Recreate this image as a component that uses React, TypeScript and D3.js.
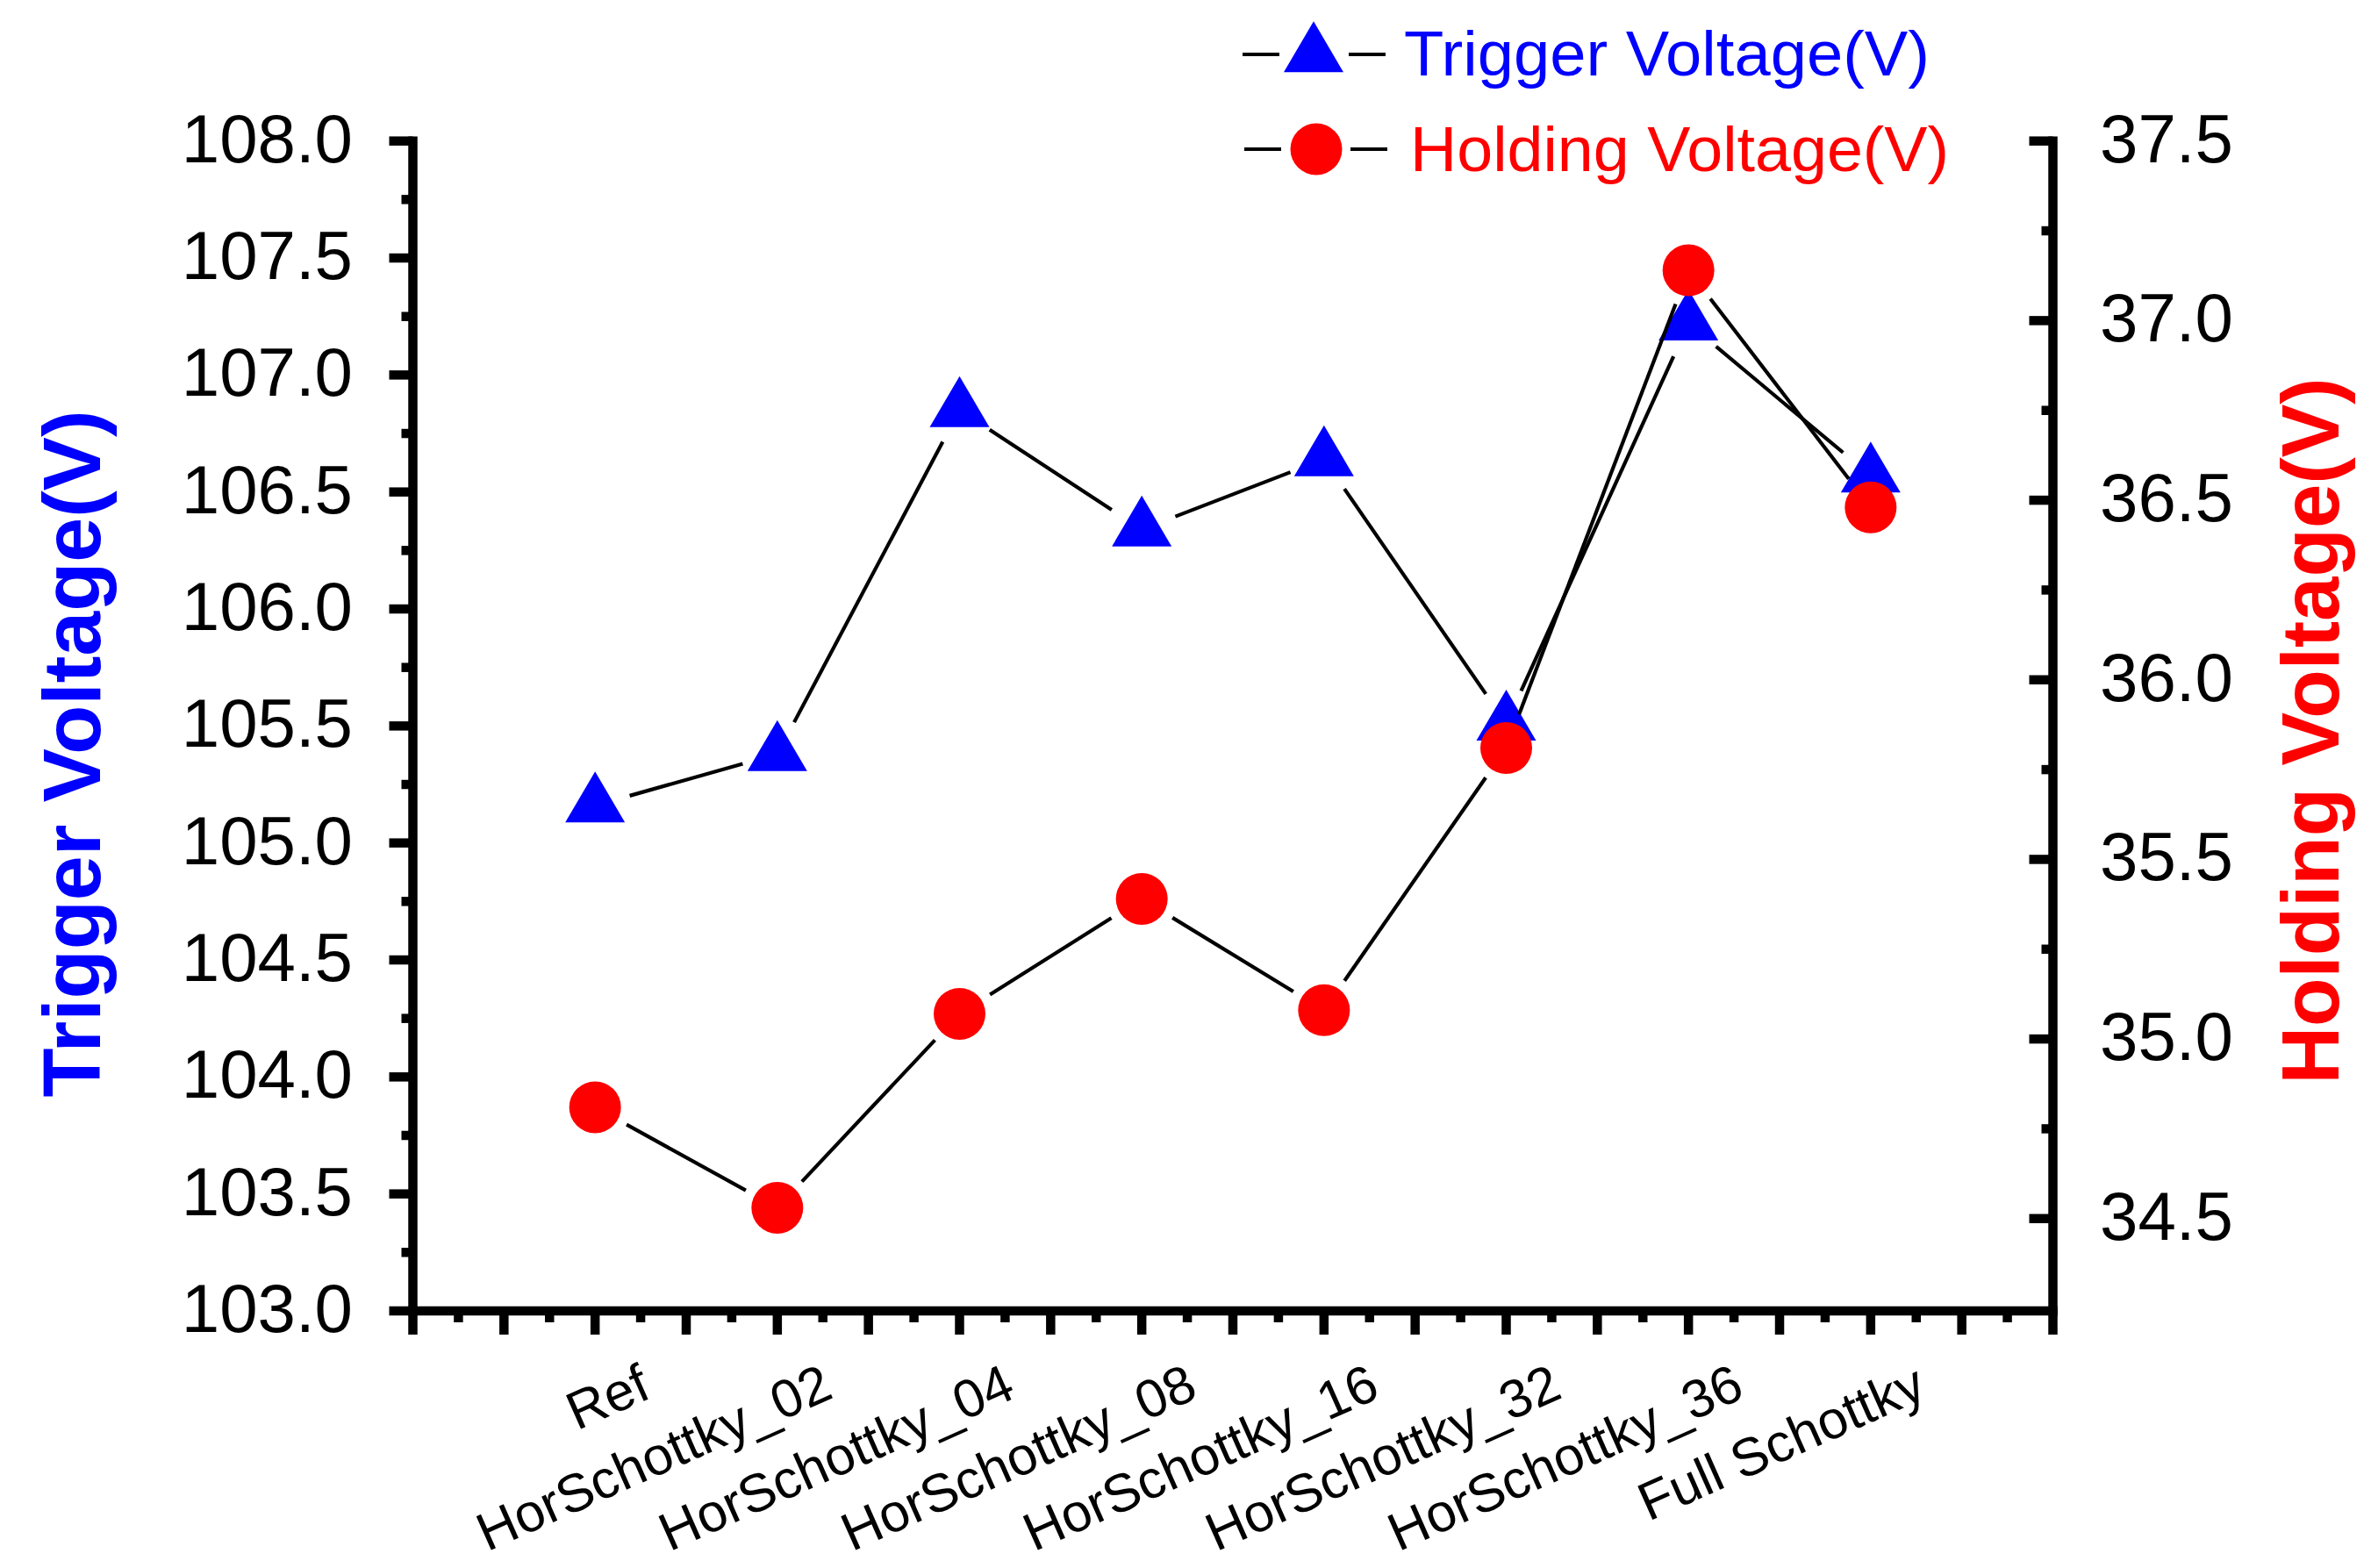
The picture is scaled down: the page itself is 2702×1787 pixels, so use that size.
import React from "react";
import * as d3 from "d3";

const categories = [
  "Ref",
  "HorSchottky_02",
  "HorSchottky_04",
  "HorSchottky_08",
  "HorSchottky_16",
  "HorSchottky_32",
  "HorSchottky_36",
  "Full Schottky",
];
const triggerVoltage = [105.16, 105.38, 106.85, 106.34, 106.64, 105.51, 107.22, 106.57];
const holdingVoltage = [34.81, 34.53, 35.07, 35.39, 35.08, 35.81, 37.14, 36.48];

const leftTicks = [103.0, 103.5, 104.0, 104.5, 105.0, 105.5, 106.0, 106.5, 107.0, 107.5, 108.0];
const rightTicks = [34.5, 35.0, 35.5, 36.0, 36.5, 37.0, 37.5];

const W = 2702;
const H = 1787;
const FONT = "'Liberation Sans', Arial, Helvetica, sans-serif";
const BLUE = "#0000ff";
const RED = "#ff0000";

const plot = { left: 470.5, right: 2339.5, top: 160.7, bottom: 1494 };

const x = d3.scaleLinear().domain([0, 9]).range([plot.left, plot.right]);
const yL = d3.scaleLinear().domain([103, 108]).range([plot.bottom, plot.top]);
const yR = d3.scaleLinear().domain([34.243, 37.5]).range([plot.bottom, plot.top]);

const AXIS_W = 10.5;
const MAJOR = 27;
const MINOR = 13;
const GAP = 41;
const TRI_W = 68;
const TRI_H = 58;
const R = 29.5;
const LINE_W = 4.2;

function triPath(cx: number, cy: number) {
  // centroid at data point
  const top = cy - (TRI_H * 2) / 3;
  const base = cy + TRI_H / 3;
  return `M${cx},${top}L${cx + TRI_W / 2},${base}L${cx - TRI_W / 2},${base}Z`;
}

const lineGen = d3.line<[number, number]>();

// line segments between markers, shortened so they leave a gap around each symbol
function gappedSegments(pts: [number, number][]) {
  const out: string[] = [];
  for (let i = 0; i < pts.length - 1; i++) {
    const [x0, y0] = pts[i];
    const [x1, y1] = pts[i + 1];
    const len = Math.hypot(x1 - x0, y1 - y0);
    if (len <= GAP * 2) continue;
    const ux = (x1 - x0) / len;
    const uy = (y1 - y0) / len;
    out.push(
      lineGen([
        [x0 + ux * GAP, y0 + uy * GAP],
        [x1 - ux * GAP, y1 - uy * GAP],
      ]) as string
    );
  }
  return out;
}

export default function App() {
  const trigPts = triggerVoltage.map((v, i) => [x(i + 1), yL(v)] as [number, number]);
  const holdPts = holdingVoltage.map((v, i) => [x(i + 1), yR(v)] as [number, number]);

  const xMajor = d3.range(0, 9.001, 0.5);
  const xMinor = d3.range(0.25, 9, 0.5);
  const leftMinor = d3.range(103.25, 108, 0.5);
  const rightMinor = d3.range(34.75, 37.5, 0.5);

  return (
    <>
      <style>{`body{margin:0;overflow:hidden}`}</style>
      <svg
        width={W}
        height={H}
        viewBox={`0 0 ${W} ${H}`}
        style={{ position: "absolute", left: 0, top: 0, background: "#fff", display: "block" }}
        fontFamily={FONT}
      >
        <rect width={W} height={H} fill="#fff" />

        {/* axes lines */}
        <g stroke="#000" strokeWidth={AXIS_W} fill="none">
          <line x1={plot.left} y1={plot.top - AXIS_W / 2} x2={plot.left} y2={plot.bottom + AXIS_W / 2} />
          <line x1={plot.right} y1={plot.top - AXIS_W / 2} x2={plot.right} y2={plot.bottom + AXIS_W / 2} />
          <line x1={plot.left - AXIS_W / 2} y1={plot.bottom} x2={plot.right + AXIS_W / 2} y2={plot.bottom} />
        </g>

        <g stroke="#000" strokeWidth={AXIS_W}>
          {/* bottom ticks (outward) */}
          {xMajor.map((t) => (
            <line key={"xM" + t} x1={x(t)} x2={x(t)} y1={plot.bottom} y2={plot.bottom + MAJOR} />
          ))}
          {xMinor.map((t) => (
            <line key={"xm" + t} x1={x(t)} x2={x(t)} y1={plot.bottom} y2={plot.bottom + MINOR} />
          ))}
          {/* left ticks (outward) */}
          {leftTicks.map((t) => (
            <line key={"lM" + t} x1={plot.left} x2={plot.left - MAJOR} y1={yL(t)} y2={yL(t)} />
          ))}
          {leftMinor.map((t) => (
            <line key={"lm" + t} x1={plot.left} x2={plot.left - MINOR} y1={yL(t)} y2={yL(t)} />
          ))}
          {/* right ticks (inward) */}
          {rightTicks.map((t) => (
            <line key={"rM" + t} x1={plot.right} x2={plot.right - MAJOR} y1={yR(t)} y2={yR(t)} />
          ))}
          {rightMinor.map((t) => (
            <line key={"rm" + t} x1={plot.right} x2={plot.right - MINOR} y1={yR(t)} y2={yR(t)} />
          ))}
        </g>

        {/* tick labels */}
        <g fontSize={78} fill="#000">
          {leftTicks.map((t) => (
            <text key={"lt" + t} x={402} y={yL(t) + 24} textAnchor="end">
              {t.toFixed(1)}
            </text>
          ))}
          {rightTicks.map((t) => (
            <text key={"rt" + t} x={2393} y={yR(t) + 24} textAnchor="start">
              {t.toFixed(1)}
            </text>
          ))}
        </g>

        {/* category labels */}
        <g fontSize={61} fill="#000">
          {categories.map((c, i) => {
            const ax = x(i + 1) + 66;
            const ay = 1592;
            return (
              <text key={c} x={ax} y={ay} textAnchor="end" transform={`rotate(-24 ${ax} ${ay})`}>
                {c}
              </text>
            );
          })}
        </g>

        {/* axis titles */}
        <text
          x={0}
          y={0}
          transform={`translate(114, 859) rotate(-90)`}
          textAnchor="middle"
          fontSize={92}
          fontWeight="bold"
          fill={BLUE}
          textLength={783}
          lengthAdjust="spacingAndGlyphs"
        >
          Trigger Voltage(V)
        </text>
        <text
          x={0}
          y={0}
          transform={`translate(2665, 833) rotate(-90)`}
          textAnchor="middle"
          fontSize={92}
          fontWeight="bold"
          fill={RED}
          textLength={805}
          lengthAdjust="spacingAndGlyphs"
        >
          Holding Voltage(V)
        </text>

        {/* Trigger series */}
        <g stroke="#000" strokeWidth={LINE_W} fill="none">
          {gappedSegments(trigPts).map((d, i) => (
            <path key={"ts" + i} d={d} />
          ))}
        </g>
        <g fill={BLUE}>
          {trigPts.map(([px, py], i) => (
            <path key={"tm" + i} d={triPath(px, py)} />
          ))}
        </g>

        {/* Holding series */}
        <g stroke="#000" strokeWidth={LINE_W} fill="none">
          {gappedSegments(holdPts).map((d, i) => (
            <path key={"hs" + i} d={d} />
          ))}
        </g>
        <g fill={RED}>
          {holdPts.map(([px, py], i) => (
            <circle key={"hm" + i} cx={px} cy={py} r={R} />
          ))}
        </g>

        {/* legend */}
        <g>
          <g stroke="#000" strokeWidth={LINE_W}>
            <line x1={1416} x2={1458} y1={62} y2={62} />
            <line x1={1537} x2={1579} y1={62} y2={62} />
            <line x1={1418} x2={1460} y1={170} y2={170} />
            <line x1={1539} x2={1581} y1={170} y2={170} />
          </g>
          <path d={triPath(1497, 63)} fill={BLUE} />
          <circle cx={1500} cy={170} r={R} fill={RED} />
          <text x={1600} y={86} fontSize={73} fill={BLUE} textLength={599} lengthAdjust="spacingAndGlyphs">
            Trigger Voltage(V)
          </text>
          <text x={1607} y={195} fontSize={73} fill={RED} textLength={614} lengthAdjust="spacingAndGlyphs">
            Holding Voltage(V)
          </text>
        </g>
      </svg>
    </>
  );
}
